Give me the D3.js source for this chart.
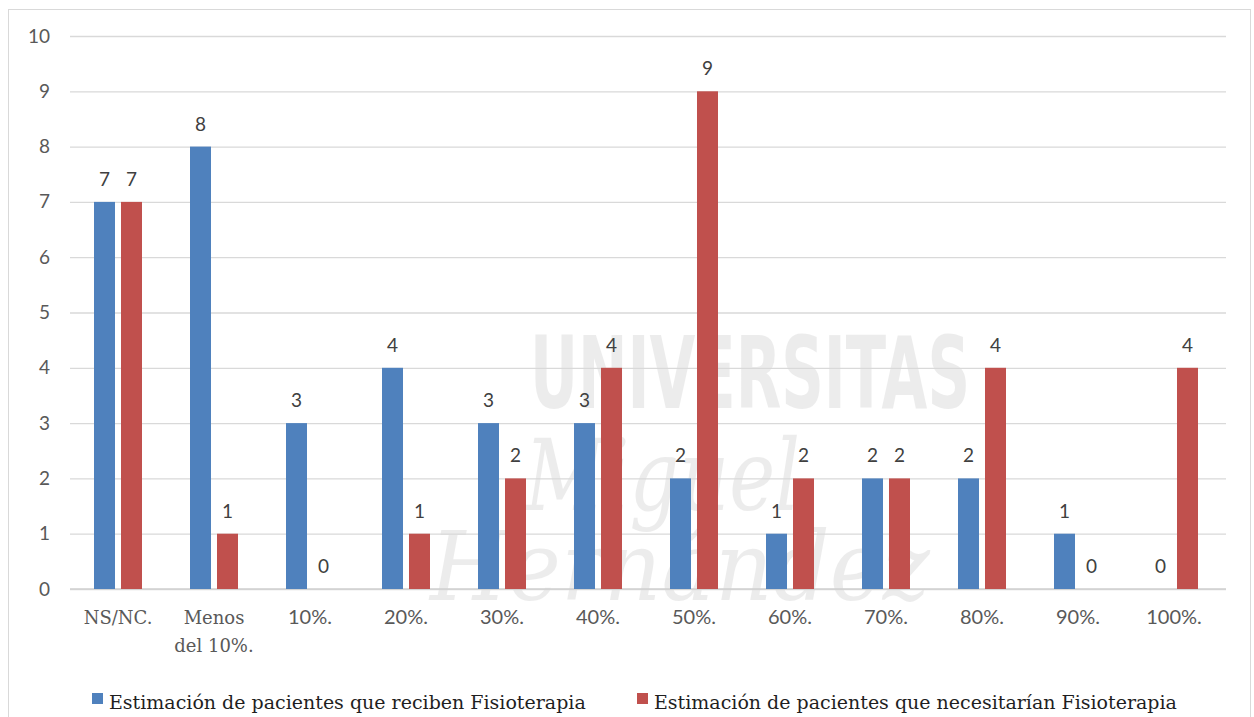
<!DOCTYPE html>
<html>
<head>
<meta charset="utf-8">
<script src="https://cdn.jsdelivr.net/npm/d3@7"></script>
<style>
  html, body { margin: 0; padding: 0; background: #fff; }
  svg { display: block; }
</style>
</head>
<body>
<svg id="chart" width="1254" height="717"></svg>
<script>
// Categories (x axis), first line / second line
const categories = ["NS/NC.", "Menos del 10%.", "10%.", "20%.", "30%.", "40%.", "50%.", "60%.", "70%.", "80%.", "90%.", "100%."];
const categoryLines = [["NS/NC."], ["Menos", "del 10%."], ["10%."], ["20%."], ["30%."], ["40%."], ["50%."], ["60%."], ["70%."], ["80%."], ["90%."], ["100%."]];
const serifCategories = ["NS/NC.", "Menos del 10%."];

// Series
const seriesNames = [
  "Estimación de pacientes que reciben Fisioterapia",
  "Estimación de pacientes que necesitarían Fisioterapia"
];
const reciben = [7, 8, 3, 4, 3, 3, 2, 1, 2, 2, 1, 0];
const necesitarian = [7, 1, 0, 1, 2, 4, 9, 2, 2, 4, 0, 4];
const seriesColors = ["#4F81BD", "#C0504D"];

// Y axis ticks
const yTicks = [0, 1, 2, 3, 4, 5, 6, 7, 8, 9, 10];

const svg = d3.select("#chart");
const plot = { left: 70, right: 1222, top: 36, bottom: 589 };

const sansFont = "Lato, 'Liberation Sans', sans-serif";
const serifFont = "'DejaVu Serif', 'Liberation Serif', serif";

// Chart frame
svg.append("rect")
  .attr("x", 8.5).attr("y", 9.5)
  .attr("width", 1242).attr("height", 720)
  .attr("fill", "#fff")
  .attr("stroke", "#d9d9d9").attr("stroke-width", 1);

const x = d3.scaleBand()
  .domain(categories)
  .range([plot.left, plot.right])
  .paddingInner(0.5)
  .paddingOuter(0.25);

const xs = d3.scaleBand()
  .domain([0, 1])
  .range([0, x.bandwidth()])
  .paddingInner(0.222);

const y = d3.scaleLinear()
  .domain([0, 10])
  .range([plot.bottom, plot.top]);

// Watermark (behind-the-text layer, drawn faintly)
const wm = svg.append("g").attr("pointer-events", "none").attr("opacity", 0.07);
wm.append("text")
  .attr("x", 530).attr("y", 408)
  .attr("textLength", 440).attr("lengthAdjust", "spacingAndGlyphs")
  .style("font-family", "'DejaVu Sans', sans-serif")
  .style("font-weight", "bold")
  .style("font-size", "100px")
  .attr("fill", "#000")
  .text("UNIVERSITAS");
wm.append("text")
  .attr("x", 525).attr("y", 510)
  .attr("textLength", 275).attr("lengthAdjust", "spacingAndGlyphs")
  .style("font-family", serifFont)
  .style("font-style", "italic")
  .style("font-size", "100px")
  .attr("fill", "#000")
  .text("Miguel");
wm.append("text")
  .attr("x", 430).attr("y", 600)
  .attr("textLength", 500).attr("lengthAdjust", "spacingAndGlyphs")
  .style("font-family", serifFont)
  .style("font-style", "italic")
  .style("font-size", "95px")
  .attr("fill", "#000")
  .text("Hernández");

// Gridlines + y labels
const yAxis = d3.axisLeft(y)
  .tickValues(yTicks)
  .tickSize(-(plot.right + 4 - plot.left))
  .tickPadding(20)
  .tickFormat(d3.format("d"));

const gy = svg.append("g")
  .attr("transform", `translate(${plot.left},0)`)
  .call(yAxis);
gy.select(".domain").remove();
gy.selectAll(".tick line")
  .attr("stroke", "#d9d9d9").attr("stroke-width", 1.3);
gy.selectAll(".tick text")
  .attr("fill", "#595959")
  .style("font-family", sansFont)
  .style("font-size", "19px");

// Baseline
svg.append("line")
  .attr("x1", plot.left).attr("x2", plot.right + 4)
  .attr("y1", y(0)).attr("y2", y(0))
  .attr("stroke", "#d0d0d0").attr("stroke-width", 1.5);

// Bars
const rows = categories.map((c, i) => ({ cat: c, vals: [reciben[i], necesitarian[i]] }));

const groups = svg.append("g").selectAll("g")
  .data(rows)
  .join("g")
  .attr("transform", d => `translate(${x(d.cat)},0)`);

groups.selectAll("rect")
  .data(d => d.vals.map((v, s) => ({ v, s })))
  .join("rect")
  .attr("x", d => xs(d.s))
  .attr("width", xs.bandwidth())
  .attr("y", d => y(d.v))
  .attr("height", d => y(0) - y(d.v))
  .attr("fill", d => seriesColors[d.s]);

// Value labels
groups.selectAll("text.val")
  .data(d => d.vals.map((v, s) => ({ v, s })))
  .join("text")
  .attr("class", "val")
  .attr("x", d => xs(d.s) + xs.bandwidth() / 2)
  .attr("y", d => y(d.v) - 16)
  .attr("text-anchor", "middle")
  .attr("fill", "#404040")
  .style("font-family", sansFont)
  .style("font-size", "19px")
  .text(d => d.v);

// Category labels
const xl = svg.append("g").selectAll("text")
  .data(categories)
  .join("text")
  .attr("x", d => x(d) + x.bandwidth() / 2)
  .attr("y", 624)
  .attr("text-anchor", "middle")
  .attr("fill", "#595959")
  .style("font-family", d => serifCategories.includes(d) ? serifFont : sansFont)
  .style("font-size", d => serifCategories.includes(d) ? "18px" : "20px");

xl.selectAll("tspan")
  .data((d, i) => categoryLines[i])
  .join("tspan")
  .attr("x", function () { return d3.select(this.parentNode).attr("x"); })
  .attr("dy", (d, i) => i === 0 ? 0 : 28)
  .text(d => d);

// Legend
const legendItems = [
  { name: seriesNames[0], color: seriesColors[0], x: 92 },
  { name: seriesNames[1], color: seriesColors[1], x: 637 }
];
const lg = svg.append("g").selectAll("g")
  .data(legendItems)
  .join("g")
  .attr("transform", d => `translate(${d.x},0)`);
lg.append("rect")
  .attr("x", 0).attr("y", 693)
  .attr("width", 11).attr("height", 11)
  .attr("fill", d => d.color);
lg.append("text")
  .attr("x", 17).attr("y", 709)
  .attr("fill", "#1f1f1f")
  .style("font-family", serifFont)
  .style("font-size", "19px")
  .text(d => d.name);
</script>
</body>
</html>
